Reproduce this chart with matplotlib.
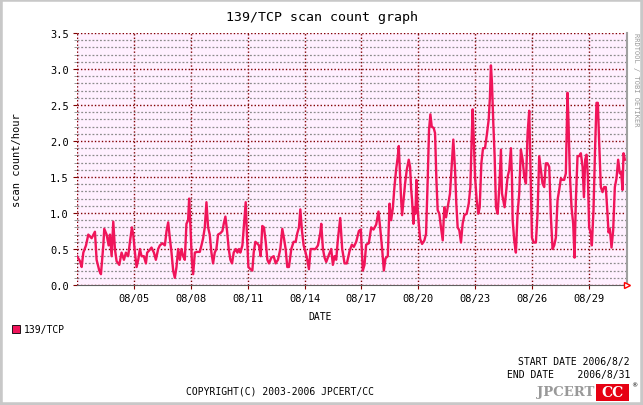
import numpy as np
import matplotlib.pyplot as plt
from matplotlib.patches import Rectangle

# hours since 2006/8/2 00:00 and scan count/hour
hours = [0, 3.8, 5.9, 8, 11.4, 14.3, 18.5, 22.7, 24.8, 28.2, 30.3, 33.3, 34.5, 37.5, 40, 41.7,
         43.8, 45.9, 48, 50.1, 53.5, 56.4, 59.4, 61.9, 64.8, 67, 69.5, 71.2, 73.3, 75.4, 77.5,
         79.6, 81.7, 84.6, 87.2, 88.8, 91.4, 94.3, 97.3, 99.8, 102.7, 104.9, 108.2, 111.2, 113.3,
         115.4, 117.5, 119.6, 121.7, 123.8, 125.9, 128, 130.1, 132.2, 134.3, 136.4, 138.5, 140.6,
         141.9, 143.6, 145.3, 147, 149.1, 152, 155.4, 157.5, 159.6, 161.7, 163.8, 165.9, 168,
         170.1, 172.2, 174.3, 176.4, 178.5, 181.5, 184, 185.7, 187.8, 189.9, 192, 194.1, 196.2,
         198.3, 200.9, 203, 205.1, 206.7, 209.3, 211.8, 213.5, 215.2, 216.9, 219.4, 221.9, 223.6,
         225.7, 227.8, 230.3, 232.4, 234.5, 236.6, 238.8, 240.9, 243, 245.9, 248.9, 251.4, 254.3,
         257.3, 259.8, 261.9, 264, 266.1, 268.2, 271.2, 274.1, 276.7, 278.8, 280.9, 282.6, 284.7,
         286.8, 289.3, 291.4, 293.5, 295.6, 298.6, 301.9, 304.9, 307.8, 309.1, 311.2, 313.3, 315.4,
         318.8, 321.7, 323.8, 325.9, 328, 330.1, 333.1, 335.6, 338.6, 341.5, 344.9, 347.8, 350.3,
         353.3, 356.7, 359.2, 361.7, 363.8, 365.9, 369.3, 372.3, 375.2, 378.6, 381.5, 383.7, 386.2,
         388.3, 390.4, 393.3, 395.5, 397.5, 399.6, 401.7, 403.8, 405.9, 407.2, 408.5, 410.2, 411.4,
         413.5, 415.2, 417.3, 419.8, 421.5, 422.8, 424, 425.7, 427, 428.3, 429.5, 431.2, 432.5,
         434.2, 436.7, 439.6, 441.7, 443.8, 445.5, 447.2, 448.9, 451.4, 453.1, 454.8, 456.4, 458.5,
         460.6, 462.8, 464.8, 467, 469.1, 472, 474.1, 476.2, 478.4, 480, 481.7, 483.8, 485.9, 488,
         490.2, 493.1, 495.7, 497.8, 499.4, 500.7, 502, 503.7, 505.8, 507.9, 509.6, 511.7, 513.8,
         516.3, 518.9, 521, 522.5, 523.8, 525.1, 526.8, 528.5, 530.2, 532.3, 534.4, 536.5, 537.8,
         539.4, 541.1, 542.8, 544.9, 547, 549.1, 550.4, 551.3, 553.3, 555.4, 557.5, 559.6, 561.7,
         563.9, 566, 568.1, 570.2, 572.3, 574.4, 575.7, 577.8, 580.7, 582.8, 584.9, 587, 589.1,
         591.2, 593.3, 595.4, 597.6, 599.7, 601.8, 603.9, 606, 608.1, 610.2, 612.3, 614.4, 616.5,
         618.6, 620.7, 622, 623.7, 625.8, 627.9, 629.6, 631.3, 633.4, 635.5, 637.6, 639.8, 641.5,
         643.1, 644.8, 646.5, 648.1, 650.3, 651.5, 653.6, 655.7, 657.4, 659.1, 660.8, 662.9, 665,
         667.1, 669.2, 671.3, 672.6, 674.3, 676.4, 678.5, 680.6, 682.7, 684.8, 686.9, 688.6, 690.3,
         691.6, 693.3]
counts = [0.40, 0.33, 0.25, 0.45, 0.55, 0.70, 0.65, 0.74, 0.35, 0.20, 0.15, 0.55, 0.78, 0.70, 0.55, 0.70,
          0.40, 0.88, 0.50, 0.33, 0.28, 0.45, 0.35, 0.45, 0.40, 0.60, 0.80, 0.70, 0.45, 0.25, 0.35,
          0.50, 0.40, 0.40, 0.30, 0.45, 0.48, 0.52, 0.45, 0.35, 0.50, 0.55, 0.58, 0.55, 0.75,
          0.87, 0.65, 0.45, 0.20, 0.10, 0.25, 0.50, 0.35, 0.50, 0.40, 0.35, 0.85, 0.90,
          1.20, 0.80, 0.35, 0.15, 0.45, 0.46, 0.46, 0.55, 0.65, 0.80, 1.15, 0.80, 0.70,
          0.45, 0.30, 0.45, 0.50, 0.70, 0.72, 0.75, 0.85, 0.95, 0.75, 0.50, 0.35, 0.30,
          0.45, 0.50, 0.45, 0.50, 0.45, 0.55, 0.90, 1.15, 0.65, 0.25, 0.22, 0.20, 0.45,
          0.60, 0.58, 0.55, 0.40, 0.82, 0.80, 0.60, 0.35, 0.30, 0.38, 0.40, 0.30, 0.35,
          0.50, 0.78, 0.65, 0.50, 0.25, 0.25, 0.50, 0.60, 0.60, 0.72, 0.80, 1.05, 0.75,
          0.55, 0.45, 0.35, 0.22, 0.50, 0.50, 0.50, 0.55, 0.72, 0.85, 0.50, 0.38, 0.32,
          0.42, 0.50, 0.28, 0.40, 0.35, 0.63, 0.93, 0.50, 0.30, 0.30, 0.47, 0.56, 0.53,
          0.60, 0.75, 0.77, 0.20, 0.28, 0.56, 0.58, 0.80, 0.77, 0.84, 1.02, 0.79, 0.49,
          0.20, 0.37, 0.40, 1.13, 0.90, 1.06, 1.36, 1.60, 1.78, 1.93, 1.60, 1.18, 0.97,
          1.22, 1.41, 1.60, 1.74, 1.64, 1.34, 1.18, 0.85, 1.08, 0.99, 1.46, 1.04, 0.85,
          0.64, 0.57, 0.62, 0.71, 1.46, 2.16, 2.37, 2.20, 2.18, 2.11, 1.46, 1.04, 0.99,
          0.80, 0.62, 1.08, 0.94, 1.08, 1.27, 1.64, 2.02, 1.60, 1.13, 0.80, 0.76, 0.59, 0.85,
          0.97, 0.99, 1.13, 1.36, 2.02, 2.44, 2.06, 1.50, 1.18, 0.99, 1.08, 1.69, 1.90,
          1.90, 2.11, 2.30, 2.60, 3.05, 2.81, 2.25, 1.79, 1.08, 0.99, 1.36, 1.88, 1.27,
          1.18, 1.08, 1.27, 1.50, 1.60, 1.90, 1.50, 0.90, 0.62, 0.45, 0.99, 1.27, 1.88,
          1.74, 1.50, 1.41, 2.11, 2.42, 1.36, 0.66, 0.59, 0.59, 0.99, 1.79, 1.60, 1.41,
          1.36, 1.69, 1.69, 1.64, 0.94, 0.50, 0.55, 0.66, 1.18, 1.32, 1.48, 1.46, 1.46,
          1.55, 2.67, 2.25, 1.53, 1.08, 0.85, 0.38, 1.18, 1.79, 1.79, 1.83, 1.64, 1.22,
          1.74, 1.81, 1.50, 0.80, 0.71, 0.55, 1.04, 1.93, 2.53, 2.53, 1.97, 1.36, 1.29,
          1.36, 1.36, 0.99, 0.73, 0.78, 0.52, 0.76, 1.36, 1.48, 1.74, 1.55, 1.57, 1.32,
          1.83, 1.74]

tick_hours = [72, 144, 216, 288, 360, 432, 504, 576, 648]
tick_labels = ["08/05", "08/08", "08/11", "08/14", "08/17", "08/20", "08/23", "08/26", "08/29"]
y_ticks = [0.0, 0.5, 1.0, 1.5, 2.0, 2.5, 3.0, 3.5]

W, H = 643, 406
mono = "DejaVu Sans Mono"
line_col = "#f0145a"
dark = "#800000"

def px(x, y):
    return x / W, 1 - y / H

fig = plt.figure(figsize=(W / 100, H / 100), dpi=100)
fig.patch.set_facecolor("white")
fig.patches.append(Rectangle((0, 0), 1, 1, transform=fig.transFigure, fill=False,
                             edgecolor="#c8c8c8", linewidth=4))

ax = fig.add_axes([77 / W, 1 - 286 / H, 550 / W, 252 / H])
ax.set_facecolor("#fff0ff")
ax.set_xlim(0, 696)
ax.set_ylim(0, 3.5)

ax.set_yticks(np.arange(0, 3.51, 0.1), minor=True)
ax.set_yticks(y_ticks)
ax.set_yticklabels([f"{v:.1f}" for v in y_ticks])
ax.set_xticks(tick_hours)
ax.set_xticklabels(tick_labels)

ax.grid(which="minor", axis="y", color="#8c8c8c", linestyle=(0, (1.5, 1.5)), linewidth=0.9)
ax.grid(which="major", color=dark, linestyle=(0, (1, 1.5)), linewidth=1.0)
ax.axvline(0, color=dark, linestyle=(0, (1, 1.5)), linewidth=1.0)
ax.tick_params(which="major", length=3, color=dark, labelsize=7.5, pad=3)
ax.tick_params(which="minor", length=2, color="#888888")
for lab in ax.get_xticklabels() + ax.get_yticklabels():
    lab.set_family(mono)

for s in ["top", "left"]:
    ax.spines[s].set_visible(False)
ax.spines["bottom"].set_color("#606060")
ax.spines["right"].set_color("#a0a0a0")
ax.spines["right"].set_linewidth(1.5)

ax.plot(hours, counts, color=line_col, linewidth=1.7, zorder=3)

# red arrow at end of x axis
ax.plot([696], [0], marker=">", markersize=5, markerfacecolor="white",
        markeredgecolor="red", clip_on=False, zorder=4)

fig.text(*px(322, 17), "139/TCP scan count graph", family=mono, fontsize=9.5,
         ha="center", va="center")
fig.text(*px(17, 160), "scan count/hour", family=mono, fontsize=7.5,
         rotation=90, ha="center", va="center")
fig.text(*px(320, 317), "DATE", family=mono, fontsize=7, ha="center", va="center")
fig.text(*px(636, 80), "RRDTOOL / TOBI OETIKER", family=mono, fontsize=5,
         color="#999999", rotation=270, ha="center", va="center")

fig.patches.append(Rectangle(px(12, 334), 8 / W, 8 / H, transform=fig.transFigure,
                             facecolor=line_col, edgecolor="black", linewidth=0.6))
fig.text(*px(24, 330), "139/TCP", family=mono, fontsize=7, ha="left", va="center")

fig.text(*px(630, 362), "START DATE 2006/8/2", family=mono, fontsize=7,
         ha="right", va="center")
fig.text(*px(630, 375), "END DATE    2006/8/31", family=mono, fontsize=7,
         ha="right", va="center")
fig.text(*px(280, 392), "COPYRIGHT(C) 2003-2006 JPCERT/CC", family=mono, fontsize=7,
         ha="center", va="center")

# JPCERT/CC logo
fig.text(*px(594, 393), "JPCERT", family="DejaVu Serif", fontweight="bold",
         fontsize=9.5, color="#999999", ha="right", va="center")
fig.patches.append(Rectangle(px(596, 402), 33 / W, 17 / H, transform=fig.transFigure,
                             facecolor="#e60012", edgecolor="none"))
fig.text(*px(612, 393), "CC", family="DejaVu Serif", fontweight="bold",
         fontsize=10, color="white", ha="center", va="center")
fig.text(*px(634, 386), "®", family="DejaVu Sans", fontsize=4.5, ha="center", va="center")

fig.savefig("out.png", dpi=100)
